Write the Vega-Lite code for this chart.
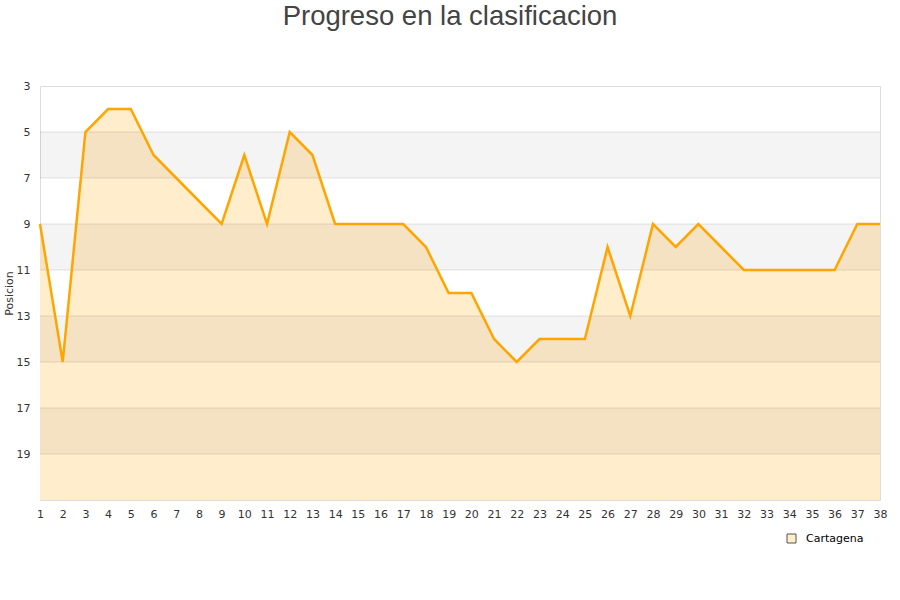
{
  "$schema": "https://vega.github.io/schema/vega-lite/v6.json",
  "autosize": "none",
  "width": 840,
  "height": 414,
  "padding": {"left": 40, "top": 86, "right": 20, "bottom": 100},
  "background": "white",
  "title": {"text": "Progreso en la clasificacion", "font": "Liberation Sans", "fontSize": 27.5, "fontWeight": "normal", "color": "#444444", "anchor": "middle", "offset": 50, "dx": -10},
  "config": {
    "view": {"stroke": "#dddddd", "strokeWidth": 1},
    "axis": {"labelFont": "DejaVu Sans", "labelFontSize": 11, "labelColor": "#333333", "titleFont": "DejaVu Sans", "titleFontSize": 11, "titleFontWeight": "normal", "titleColor": "#333333", "labelOverlap": false},
    "axisX": {"labelOverlap": false, "labelFlush": false}
  },
  "datasets": {
    "bands": [
      {"y1": 5, "y2": 7},
      {"y1": 9, "y2": 11},
      {"y1": 13, "y2": 15},
      {"y1": 17, "y2": 19}
    ],
    "grid": [
      {"g": 5}, {"g": 7}, {"g": 9}, {"g": 11}, {"g": 13}, {"g": 15}, {"g": 17}, {"g": 19}
    ],
    "pos": [
      {"jornada": 1, "posicion": 9, "equipo": "Cartagena"},
      {"jornada": 2, "posicion": 15, "equipo": "Cartagena"},
      {"jornada": 3, "posicion": 5, "equipo": "Cartagena"},
      {"jornada": 4, "posicion": 4, "equipo": "Cartagena"},
      {"jornada": 5, "posicion": 4, "equipo": "Cartagena"},
      {"jornada": 6, "posicion": 6, "equipo": "Cartagena"},
      {"jornada": 7, "posicion": 7, "equipo": "Cartagena"},
      {"jornada": 8, "posicion": 8, "equipo": "Cartagena"},
      {"jornada": 9, "posicion": 9, "equipo": "Cartagena"},
      {"jornada": 10, "posicion": 6, "equipo": "Cartagena"},
      {"jornada": 11, "posicion": 9, "equipo": "Cartagena"},
      {"jornada": 12, "posicion": 5, "equipo": "Cartagena"},
      {"jornada": 13, "posicion": 6, "equipo": "Cartagena"},
      {"jornada": 14, "posicion": 9, "equipo": "Cartagena"},
      {"jornada": 15, "posicion": 9, "equipo": "Cartagena"},
      {"jornada": 16, "posicion": 9, "equipo": "Cartagena"},
      {"jornada": 17, "posicion": 9, "equipo": "Cartagena"},
      {"jornada": 18, "posicion": 10, "equipo": "Cartagena"},
      {"jornada": 19, "posicion": 12, "equipo": "Cartagena"},
      {"jornada": 20, "posicion": 12, "equipo": "Cartagena"},
      {"jornada": 21, "posicion": 14, "equipo": "Cartagena"},
      {"jornada": 22, "posicion": 15, "equipo": "Cartagena"},
      {"jornada": 23, "posicion": 14, "equipo": "Cartagena"},
      {"jornada": 24, "posicion": 14, "equipo": "Cartagena"},
      {"jornada": 25, "posicion": 14, "equipo": "Cartagena"},
      {"jornada": 26, "posicion": 10, "equipo": "Cartagena"},
      {"jornada": 27, "posicion": 13, "equipo": "Cartagena"},
      {"jornada": 28, "posicion": 9, "equipo": "Cartagena"},
      {"jornada": 29, "posicion": 10, "equipo": "Cartagena"},
      {"jornada": 30, "posicion": 9, "equipo": "Cartagena"},
      {"jornada": 31, "posicion": 10, "equipo": "Cartagena"},
      {"jornada": 32, "posicion": 11, "equipo": "Cartagena"},
      {"jornada": 33, "posicion": 11, "equipo": "Cartagena"},
      {"jornada": 34, "posicion": 11, "equipo": "Cartagena"},
      {"jornada": 35, "posicion": 11, "equipo": "Cartagena"},
      {"jornada": 36, "posicion": 11, "equipo": "Cartagena"},
      {"jornada": 37, "posicion": 9, "equipo": "Cartagena"},
      {"jornada": 38, "posicion": 9, "equipo": "Cartagena"}
    ]
  },
  "layer": [
    {
      "data": {"name": "pos"},
      "mark": {"type": "area", "opacity": 1},
      "encoding": {
        "x": {"field": "jornada", "type": "quantitative", "scale": {"domain": [1, 38], "nice": false, "zero": false},
          "axis": {"values": [1,2,3,4,5,6,7,8,9,10,11,12,13,14,15,16,17,18,19,20,21,22,23,24,25,26,27,28,29,30,31,32,33,34,35,36,37,38], "title": null, "grid": false, "domain": false, "ticks": false, "labelPadding": 8, "labelFlush": false, "labelOverlap": false, "format": "d"}},
        "y": {"field": "posicion", "type": "quantitative", "scale": {"domain": [3, 21], "reverse": true, "zero": false, "nice": false},
          "axis": {"values": [3, 5, 7, 9, 11, 13, 15, 17, 19], "title": "Posicion", "grid": false, "domain": false, "ticks": false, "labelPadding": 10, "titlePadding": 2}},
        "y2": {"datum": 21},
        "color": {"field": "equipo", "type": "nominal", "scale": {"range": ["#FFEDCC"]},
          "legend": {"title": null, "orient": "none", "legendX": 746, "legendY": 447, "symbolType": "square", "symbolSize": 81, "symbolStrokeColor": "#555555", "symbolStrokeWidth": 1, "labelOffset": 9, "labelFont": "DejaVu Sans", "labelFontSize": 11, "labelColor": "#000000",
            "encode": {"symbols": {"update": {"stroke": {"value": "#555555"}, "strokeWidth": {"value": 1}}}}}}
      }
    },
    {
      "data": {"name": "bands"},
      "mark": {"type": "rect", "fill": "#000000", "opacity": 0.045},
      "encoding": {
        "y": {"field": "y1", "type": "quantitative"},
        "y2": {"field": "y2"}
      }
    },
    {
      "data": {"name": "grid"},
      "mark": {"type": "rule", "color": "#000000", "opacity": 0.1, "strokeWidth": 1},
      "encoding": {
        "y": {"field": "g", "type": "quantitative"}
      }
    },
    {
      "data": {"name": "pos"},
      "mark": {"type": "line", "color": "#FFA500", "strokeWidth": 2.5},
      "encoding": {
        "x": {"field": "jornada", "type": "quantitative", "axis": {"values": [1,2,3,4,5,6,7,8,9,10,11,12,13,14,15,16,17,18,19,20,21,22,23,24,25,26,27,28,29,30,31,32,33,34,35,36,37,38], "title": null, "grid": false, "domain": false, "ticks": false, "labelPadding": 8, "labelFlush": false, "labelOverlap": false, "format": "d"}},
        "y": {"field": "posicion", "type": "quantitative"}
      }
    }
  ]
}
